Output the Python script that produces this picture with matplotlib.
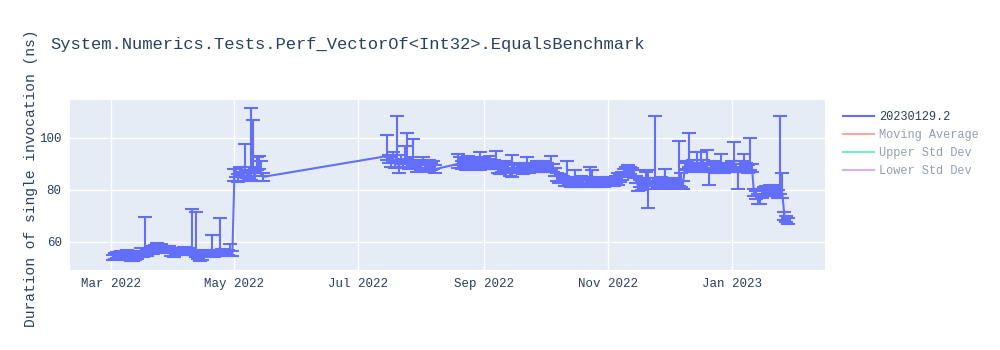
import matplotlib
matplotlib.use("Agg")
import matplotlib.pyplot as plt
import matplotlib.dates as mdates
from matplotlib.lines import Line2D
import pandas as pd

# ---------------- data ----------------
dates_a = ["2022-03-%02d" % d for d in range(2, 32)] + ["2022-04-%02d" % d for d in range(1, 31)]
vals_a = [54.0, 54.5, 55.0, 54.2, 55.3, 54.8, 54.0, 55.5, 55.2, 54.0,
          53.8, 54.0, 54.3, 55.5, 56.0, 55.0, 56.0, 55.5, 56.5, 57.0,
          56.5, 57.5, 58.0, 57.5, 58.2, 57.0, 57.2, 56.5, 57.0, 55.5,
          55.0, 55.8, 56.5, 56.0, 56.5, 57.0, 56.0, 56.5, 56.2, 56.0,
          56.0, 55.5, 54.5, 53.5, 54.0, 55.5, 55.8, 55.5, 55.6, 55.8,
          55.5, 55.8, 56.0, 56.0, 56.2, 55.8, 55.5, 56.0, 55.8, 55.5]
up_a = [1.0, 1.2, 1.0, 1.0, 1.2, 1.0, 1.0, 1.2, 1.0, 1.0,
        1.0, 1.0, 1.2, 1.0, 1.5, 1.0, 13.5, 1.2, 1.0, 1.2,
        1.0, 1.2, 1.5, 1.0, 1.0, 1.2, 1.0, 1.0, 1.5, 1.0,
        1.0, 1.2, 1.0, 1.0, 1.2, 1.0, 1.0, 1.2, 1.0, 16.5,
        1.0, 16.0, 1.0, 1.2, 1.0, 1.0, 1.2, 1.0, 1.0, 7.0,
        1.0, 1.2, 1.0, 13.0, 1.0, 1.2, 1.0, 1.0, 3.5, 1.0]
down_a = [1.0, 1.0, 1.2, 1.0, 1.0, 1.2, 1.0, 1.0, 1.0, 1.2,
          1.0, 1.0, 1.0, 1.2, 1.0, 1.0, 1.2, 1.0, 1.0, 1.0,
          1.2, 1.0, 1.0, 1.0, 1.2, 1.0, 1.0, 1.0, 1.2, 1.0,
          1.0, 1.0, 1.2, 1.0, 1.0, 1.0, 1.2, 1.0, 1.0, 1.0,
          1.0, 1.2, 1.0, 1.0, 1.0, 1.2, 1.0, 1.0, 1.0, 1.0,
          1.2, 1.0, 1.0, 1.0, 1.2, 1.0, 1.0, 1.0, 1.2, 1.0]

dates_b = ["2022-05-%02d" % d for d in range(1, 16)]
vals_b = [85.0, 86.5, 84.5, 87.0, 85.5, 88.0, 86.0, 87.0, 86.0, 88.5,
          85.0, 89.0, 90.0, 87.0, 85.0]
up_b = [3.0, 1.5, 1.5, 2.0, 1.5, 9.5, 1.5, 2.0, 25.5, 18.5,
        1.5, 3.5, 3.0, 4.0, 1.5]
down_b = [1.5, 1.5, 1.5, 1.5, 2.0, 1.5, 1.5, 1.5, 2.0, 1.5,
          1.5, 1.5, 2.0, 1.5, 1.5]

dates_c = ["2022-07-%02d" % d for d in range(15, 32)] + ["2022-08-%02d" % d for d in range(1, 9)]
vals_c = [93.0, 92.0, 91.0, 92.5, 90.0, 93.0, 89.0, 91.5, 90.5, 92.0,
          91.0, 89.5, 90.5, 91.0, 89.5, 88.5, 90.0, 89.0, 91.0, 89.5,
          88.5, 90.0, 89.0, 89.5, 88.0]
up_c = [8.0, 1.5, 1.5, 2.0, 1.5, 15.5, 1.5, 2.0, 1.5, 5.0,
        11.0, 1.5, 2.0, 8.5, 1.5, 1.5, 1.5, 1.5, 1.5, 1.5,
        1.5, 1.5, 1.5, 1.5, 1.5]
down_c = [1.5, 1.5, 2.0, 1.5, 1.5, 1.5, 2.5, 1.5, 1.5, 1.5,
          2.0, 1.5, 1.5, 1.5, 1.5, 1.5, 1.5, 1.5, 1.5, 1.5,
          1.5, 1.5, 1.5, 1.5, 1.5]

dates_d = (["2022-08-%02d" % d for d in range(19, 32)] + ["2022-09-%02d" % d for d in range(1, 31)]
           + ["2022-10-%02d" % d for d in range(1, 10)])
vals_d = [90.0, 91.0, 89.5, 90.5, 89.0, 91.5, 90.0, 89.5, 91.0, 90.0,
          90.5, 89.0, 91.0, 90.0, 89.5, 90.5, 91.0, 89.5, 90.0, 89.5,
          88.0, 87.5, 88.5, 89.0, 89.5, 88.0, 87.0, 86.5, 88.0, 88.5,
          89.0, 88.0, 87.5, 88.5, 89.0, 88.0, 88.5, 89.0, 88.5, 89.5,
          88.5, 89.0, 89.5, 88.5, 89.0, 88.5, 89.0, 88.5, 87.0, 85.0,
          84.0, 84.5]
up_d = [4.0, 1.5, 1.5, 1.5, 1.5, 1.5, 1.5, 1.5, 1.5, 1.5,
        1.5, 5.5, 1.5, 1.5, 1.5, 1.5, 2.0, 1.5, 1.5, 5.5,
        1.5, 1.5, 1.5, 1.5, 1.5, 1.5, 1.5, 7.0, 1.5, 1.5,
        1.5, 1.5, 1.5, 1.5, 3.5, 1.5, 1.5, 1.5, 1.5, 1.5,
        1.5, 1.5, 1.5, 1.5, 1.5, 1.5, 4.0, 1.5, 1.5, 1.5,
        1.5, 1.5]
down_d = [1.5, 1.5, 1.5, 1.5, 1.5, 1.5, 1.5, 1.5, 1.5, 1.5,
          1.5, 1.5, 1.5, 1.5, 1.5, 1.5, 1.5, 1.5, 1.5, 1.5,
          1.5, 1.5, 1.5, 1.5, 1.5, 1.5, 1.5, 1.5, 1.5, 1.5,
          1.5, 1.5, 1.5, 1.5, 1.5, 1.5, 1.5, 1.5, 1.5, 1.5,
          1.5, 1.5, 1.5, 1.5, 1.5, 1.5, 1.5, 1.5, 1.5, 1.5,
          1.5, 1.5]

dates_e = (["2022-10-%02d" % d for d in range(10, 32)] + ["2022-11-%02d" % d for d in range(1, 31)]
           + ["2022-12-%02d" % d for d in range(1, 9)])
vals_e = [84.0, 83.0, 84.5, 83.5, 82.5, 83.0, 84.0, 82.5, 83.5, 83.0,
          82.5, 83.0, 83.5, 84.0, 83.5, 83.0, 82.5, 83.0, 83.5, 83.0,
          82.8, 83.0,
          83.5, 83.0, 83.5, 83.0, 84.0, 83.5, 84.5, 85.5, 86.5, 87.5,
          88.0, 87.5, 87.0, 86.0, 84.0, 81.0, 82.5, 81.5, 83.0, 82.0,
          82.5, 83.0, 82.0, 84.0, 83.0, 82.5, 83.5, 82.0, 83.5, 82.5,
          83.0, 82.0, 82.5, 83.0, 82.5, 83.0, 82.5, 82.0]
up_e = [1.5, 1.5, 6.5, 1.5, 1.5, 1.5, 3.5, 1.5, 1.5, 2.5,
        1.5, 1.5, 1.5, 5.0, 4.0, 1.5, 1.5, 1.5, 1.5, 1.5,
        1.5, 1.5,
        1.5, 1.5, 1.5, 1.5, 1.5, 3.0, 1.5, 1.5, 1.5, 1.5,
        1.5, 1.5, 1.5, 1.5, 1.5, 1.5, 1.5, 1.5, 1.5, 5.0,
        5.0, 1.5, 1.5, 24.5, 1.5, 1.5, 1.5, 1.5, 4.5, 1.5,
        1.5, 1.5, 1.5, 1.5, 1.5, 16.0, 4.0, 1.5]
down_e = [1.5, 1.5, 1.5, 1.5, 1.5, 1.5, 1.5, 1.5, 1.5, 1.5,
          1.5, 1.5, 1.5, 1.5, 1.5, 1.5, 1.5, 1.5, 1.5, 1.5,
          1.5, 1.5,
          1.5, 1.5, 1.5, 1.5, 1.5, 1.5, 1.5, 1.5, 1.5, 1.5,
          1.5, 1.5, 1.5, 1.5, 1.5, 1.5, 1.5, 1.5, 1.5, 1.5,
          9.5, 1.5, 1.5, 1.5, 1.5, 1.5, 1.5, 1.5, 1.5, 1.5,
          1.5, 1.5, 1.5, 1.5, 1.5, 1.5, 1.5, 1.5]

dates_f = ["2022-12-%02d" % d for d in range(9, 32)] + ["2023-01-%02d" % d for d in range(1, 30)]
vals_f = [89.0, 89.5, 90.5, 88.5, 90.0, 89.0, 90.5, 88.5, 89.5, 90.0,
          89.0, 88.5, 87.0, 88.5, 89.5, 88.0, 89.0, 88.5, 89.5, 88.0,
          88.5, 89.0, 88.5,
          89.5, 90.0, 88.5, 87.5, 88.5, 89.5, 88.5, 89.0, 88.0, 89.0,
          88.5, 79.0, 78.0, 77.0, 76.0, 78.5, 79.5, 80.0, 79.0, 80.5,
          79.5, 79.0, 80.0, 78.5, 80.0, 78.5, 70.0, 68.5, 68.0]
up_f = [1.5, 1.5, 11.5, 1.5, 1.5, 1.5, 4.0, 1.5, 5.0, 1.5,
        1.5, 7.0, 1.5, 1.5, 1.5, 1.5, 1.5, 1.5, 4.5, 1.5,
        1.5, 1.5, 1.5,
        1.5, 8.5, 1.5, 1.5, 1.5, 1.5, 5.5, 1.5, 1.5, 11.0,
        1.5, 1.5, 1.5, 1.5, 1.5, 1.5, 1.5, 1.5, 1.5, 1.5,
        1.5, 1.5, 2.0, 1.5, 28.5, 8.0, 1.5, 1.5, 1.0]
down_f = [1.5, 1.5, 1.5, 1.5, 1.5, 1.5, 1.5, 1.5, 1.5, 1.5,
          1.5, 1.5, 5.0, 1.5, 1.5, 1.5, 1.5, 1.5, 1.5, 1.5,
          1.5, 1.5, 1.5,
          1.5, 1.5, 1.5, 7.0, 1.5, 1.5, 1.5, 1.5, 1.5, 1.5,
          1.5, 1.5, 1.5, 2.5, 1.5, 1.5, 1.5, 1.5, 1.5, 1.5,
          1.5, 1.5, 1.5, 1.5, 1.5, 1.5, 1.5, 1.0, 1.0]

dates = dates_a + dates_b + dates_c + dates_d + dates_e + dates_f
values = vals_a + vals_b + vals_c + vals_d + vals_e + vals_f
err_up = up_a + up_b + up_c + up_d + up_e + up_f
err_down = down_a + down_b + down_c + down_d + down_e + down_f

title = "System.Numerics.Tests.Perf_VectorOf<Int32>.EqualsBenchmark"
ylabel = "Duration of single invocation (ns)"
series_name = "20230129.2"
legend_names = ["Moving Average", "Upper Std Dev", "Lower Std Dev"]
yticks = [60, 80, 100]

# ---------------- style ----------------
FONT = ["Liberation Mono", "DejaVu Sans Mono"]
plt.rcParams["font.family"] = FONT
TXT = "#2a3f5f"
BLUE = "#636EFA"
HIDDEN_COLORS = ["#EF553B", "#00CC96", "#AB63FA"]

fig = plt.figure(figsize=(10, 3.5), dpi=100)
ax = fig.add_axes([0.070, 0.229, 0.755, 0.485])
ax.set_facecolor("#E5ECF6")
for s in ax.spines.values():
    s.set_visible(False)

x = pd.to_datetime(dates)
ax.errorbar(x, values, yerr=[err_down, err_up], fmt="-", color=BLUE, ecolor=BLUE,
            lw=1.5, elinewidth=1.5, capsize=5, capthick=1.5, zorder=3)

ax.set_ylim(49.2, 114.6)
ax.set_xlim(pd.Timestamp("2022-02-09"), pd.Timestamp("2023-02-16"))
ax.set_yticks(yticks)
ax.xaxis.set_major_locator(mdates.MonthLocator(bymonth=[1, 3, 5, 7, 9, 11]))
ax.xaxis.set_major_formatter(mdates.DateFormatter("%b %Y"))
ax.grid(True, color="white", lw=1.0, zorder=0)
ax.set_axisbelow(True)
ax.tick_params(axis="both", length=0, labelsize=9, colors=TXT, pad=6)

fig.text(0.05, 1 - 45 / 350, title, fontsize=12.3, color=TXT, va="center", ha="left")
fig.text(0.031, 0.49, ylabel, fontsize=10.5, color=TXT, rotation=90, va="center", ha="center")

handles = [Line2D([], [], color=BLUE, lw=1.5)]
for c in HIDDEN_COLORS:
    handles.append(Line2D([], [], color=c, lw=1.5, alpha=0.5))
leg = fig.legend(handles, [series_name] + legend_names, loc="upper left",
                 bbox_to_anchor=(0.838, 1 - 106 / 350), frameon=False, fontsize=8.6,
                 handlelength=2.6, handletextpad=0.45, labelspacing=0.52, borderaxespad=0)
for i, t in enumerate(leg.get_texts()):
    t.set_color(TXT)
    if i > 0:
        t.set_alpha(0.5)

fig.savefig("out.png", dpi=100)
